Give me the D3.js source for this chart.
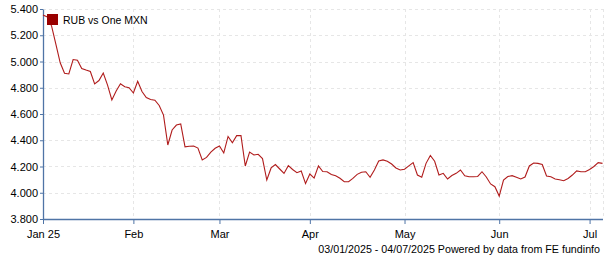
<!DOCTYPE html>
<html>
<head>
<meta charset="utf-8">
<script src="https://cdn.jsdelivr.net/npm/d3@7"></script>
<style>
  body { margin: 0; background: #fff; }
  text { font-family: "Liberation Sans", Arial, sans-serif; fill: #000; }
  .grid line { stroke: #e6e6e6; stroke-dasharray: 3,3; }
</style>
</head>
<body>
<div id="chart"></div>
<script>
// chart data (one value per trading day, 03/01/2025 - 04/07/2025)
var seriesName = "RUB vs One MXN";
var rates = [
  5.354, 5.34, 5.27, 5.13, 4.99, 4.91, 4.905, 5.015, 5.01, 4.947,
  4.935, 4.924, 4.83, 4.855, 4.912, 4.82, 4.707, 4.775, 4.83, 4.808,
  4.80, 4.76, 4.85, 4.771, 4.726, 4.71, 4.705, 4.665, 4.592, 4.364,
  4.478, 4.516, 4.524, 4.35, 4.354, 4.356, 4.34, 4.25, 4.269, 4.31,
  4.339, 4.356, 4.303, 4.429, 4.381, 4.435, 4.435, 4.204, 4.31, 4.288,
  4.293, 4.26, 4.097, 4.189, 4.215, 4.181, 4.147, 4.206, 4.177, 4.153,
  4.166, 4.07, 4.143, 4.112, 4.205, 4.162, 4.16, 4.139, 4.129, 4.11,
  4.084, 4.084, 4.109, 4.14, 4.156, 4.16, 4.118, 4.174, 4.242, 4.25,
  4.24, 4.219, 4.189, 4.173, 4.179, 4.205, 4.23, 4.135, 4.118, 4.224,
  4.284, 4.24, 4.135, 4.148, 4.105, 4.131, 4.148, 4.173, 4.129, 4.122,
  4.122, 4.124, 4.16, 4.12, 4.067, 4.046, 3.975, 4.097, 4.124, 4.13,
  4.118, 4.105, 4.12, 4.204, 4.227, 4.224, 4.215, 4.128, 4.122, 4.105,
  4.099, 4.092, 4.109, 4.135, 4.166, 4.16, 4.16, 4.177, 4.2, 4.229,
  4.224
];
var monthLabels = ["Jan 25", "Feb", "Mar", "Apr", "May", "Jun", "Jul"];
var monthIndex = [0, 21, 41, 62, 84, 106, 127];
var yTicks = [3.8, 4.0, 4.2, 4.4, 4.6, 4.8, 5.0, 5.2, 5.4];
var footer = "03/01/2025 - 04/07/2025 Powered by data from FE fundinfo";

var svgWidth = 605;
var svgHeight = 260;
var margin = { top: 9, right: 2, bottom: 41, left: 43 };
var width = svgWidth - margin.left - margin.right;
var height = svgHeight - margin.top - margin.bottom;

var svg = d3.select("#chart")
  .append("svg")
  .attr("width", svgWidth)
  .attr("height", svgHeight);

var chartGroup = svg.append("g")
  .attr("transform", `translate(${margin.left}, ${margin.top})`);

var xScale = d3.scaleLinear()
  .domain([0, rates.length - 1])
  .range([0, width - 0.5]);

var yScale = d3.scaleLinear()
  .domain([3.8, 5.4])
  .range([height, 0]);

// grid lines
chartGroup.append("g")
  .attr("class", "grid")
  .selectAll("line")
  .data(yTicks.slice(1))
  .enter()
  .append("line")
  .attr("x1", 0)
  .attr("x2", width)
  .attr("y1", d => Math.round(yScale(d)) + 0.5)
  .attr("y2", d => Math.round(yScale(d)) + 0.5);

chartGroup.append("g")
  .attr("class", "grid")
  .selectAll("line")
  .data(monthIndex.slice(1).concat([rates.length - 1]))
  .enter()
  .append("line")
  .attr("x1", d => Math.round(xScale(d)) + 0.5)
  .attr("x2", d => Math.round(xScale(d)) + 0.5)
  .attr("y1", 0)
  .attr("y2", height);

// axes
var bottomAxis = d3.axisBottom(xScale)
  .tickValues(monthIndex)
  .tickFormat((d, i) => monthLabels[i])
  .tickSize(5)
  .tickSizeOuter(0);

var leftAxis = d3.axisLeft(yScale)
  .tickValues(yTicks)
  .tickFormat(d3.format(".3f"))
  .tickSize(3)
  .tickSizeOuter(0);

var xAxisG = chartGroup.append("g")
  .attr("transform", `translate(0, ${height})`)
  .call(bottomAxis);

var yAxisG = chartGroup.append("g")
  .call(leftAxis);

[xAxisG, yAxisG].forEach(function(g) {
  g.select(".domain").attr("stroke", "#4f74a6").attr("stroke-width", 1.3);
  g.selectAll(".tick line").attr("stroke", "#4f74a6");
  g.selectAll(".tick text")
    .attr("font-size", "11px")
    .attr("font-family", "Liberation Sans, Arial, sans-serif")
    .attr("fill", "#000");
});
xAxisG.selectAll(".tick text").attr("dy", "0").attr("y", 19);
yAxisG.selectAll(".tick text").attr("x", -5);

// line
var line = d3.line()
  .x((d, i) => xScale(i))
  .y(d => yScale(d));

chartGroup.append("path")
  .datum(rates)
  .attr("fill", "none")
  .attr("stroke", "#b01c1c")
  .attr("stroke-width", 1.1)
  .attr("d", line);

// legend
svg.append("rect")
  .attr("x", 47)
  .attr("y", 14)
  .attr("width", 11)
  .attr("height", 11)
  .attr("fill", "#990000");

svg.append("text")
  .attr("x", 63)
  .attr("y", 23.5)
  .attr("font-size", "10.5px")
  .text(seriesName);

// footer
svg.append("text")
  .attr("x", 600)
  .attr("y", 252.5)
  .attr("text-anchor", "end")
  .attr("font-size", "10.7px")
  .text(footer);
</script>
</body>
</html>
